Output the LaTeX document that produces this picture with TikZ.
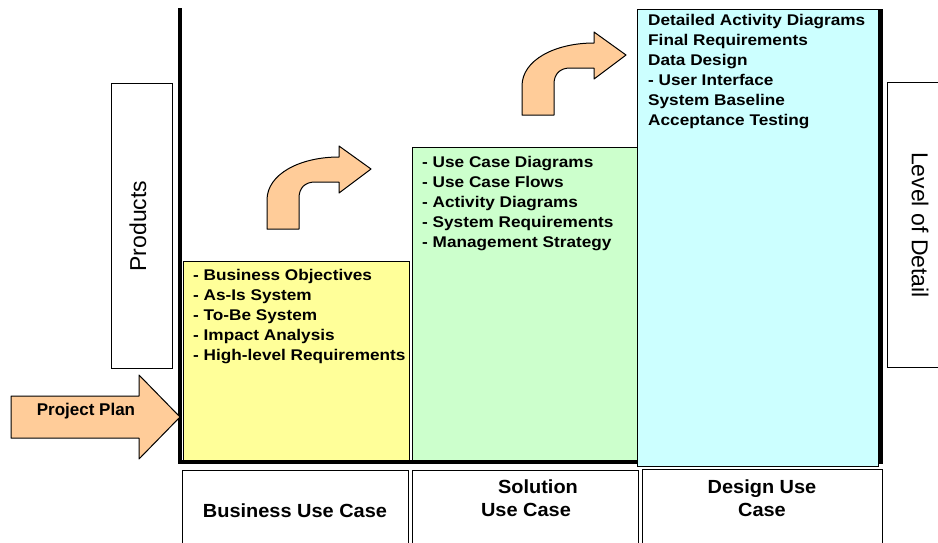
\documentclass[tikz,border=0pt]{standalone}
\usepackage{fontspec}
\setmainfont{Liberation Sans}
\newfontfamily\listfont[FakeStretch=1.11]{Liberation Sans}
\newfontfamily\phasefont[FakeStretch=1.05]{Liberation Sans}
\definecolor{bizyellow}{HTML}{FFFF99}
\definecolor{solgreen}{HTML}{CCFFCC}
\definecolor{descyan}{HTML}{CCFFFF}
\definecolor{arroworange}{HTML}{FFCC99}
\newcommand{\turnarrow}[1]{%
\draw [bendarrow, shift={#1}] (267,229) -- (267,200) .. controls (267,174) and (300,157) .. (339,157) -- (339,146) -- (371,169) -- (339,193) -- (339,182) -- (315,182) .. controls (305,182) and (299,188) .. (299,198) -- (299,229) -- cycle;}
\begin{document}
\begin{tikzpicture}[x=1pt, y=-1pt,
  box/.style={draw, line width=0.8pt, inner sep=0pt, anchor=north west},
  list/.style={anchor=north west, inner sep=0pt, align=left, font=\listfont\bfseries\fontsize{15.5}{20}\selectfont},
  phase/.style={align=center, inner sep=0pt, font=\phasefont\bfseries\fontsize{19}{23}\selectfont},
  axislabel/.style={inner sep=0pt, font=\fontsize{23}{27}\selectfont},
  bendarrow/.style={draw, line width=1pt, fill=arroworange, line join=round}]
\clip (0,0) rectangle (938,542);
% axes
\draw [line width=4.5pt] (180,8) -- (180,462) -- (881,462) -- (881,9);
% side boxes
\node (products) [box, minimum width=61, minimum height=285] at (111,83) {};
\node (productstext) [axislabel, rotate=90] at (138,226) {Products};
\node (detail) [box, minimum width=60, minimum height=285] at (887,82) {};
\node (detailtext) [axislabel, rotate=-90] at (920,225) {Level of Detail};
% steps
\node (business) [box, fill=bizyellow, minimum width=226, minimum height=199] at (183,261) {};
\node (solution) [box, fill=solgreen, minimum width=225, minimum height=313] at (412,147) {};
\node (design) [box, fill=descyan, minimum width=241, minimum height=457] at (637,9) {};
\node (businesslist) [list] at ([shift={(10,8)}]business.north west)
  {- Business Objectives\\- As-Is System\\- To-Be System\\- Impact Analysis\\- High-level Requirements};
\node (solutionlist) [list] at ([shift={(10,9)}]solution.north west)
  {- Use Case Diagrams\\- Use Case Flows\\- Activity Diagrams\\- System Requirements\\- Management Strategy};
\node (designlist) [list] at ([shift={(11,5)}]design.north west)
  {Detailed Activity Diagrams\\Final Requirements\\Data Design\\- User Interface\\System Baseline\\Acceptance Testing};
% phase names
\node (bucase) [box, minimum width=226, minimum height=80] at (182,470) {};
\node (socase) [box, minimum width=226, minimum height=80] at (412,470) {};
\node (decase) [box, minimum width=240, minimum height=80] at (642,469) {};
\node (bucasetext) [phase] at (295,511) {Business Use Case};
\node (socasetext) [phase] at (526,498) {\hspace*{24pt}Solution\\Use Case};
\node (decasetext) [phase] at (762,498) {Design Use\\Case};
% arrows
\draw [bendarrow] (11,396) -- (139,396) -- (139,375) -- (180,417) -- (139,459) -- (139,438) -- (11,438) -- cycle;
\node (plan) [font=\bfseries\fontsize{17}{20}\selectfont, inner sep=0pt] at (86,411) {Project Plan};
\turnarrow{(0,0)}
\turnarrow{(255,-114)}
\end{tikzpicture}
\end{document}
